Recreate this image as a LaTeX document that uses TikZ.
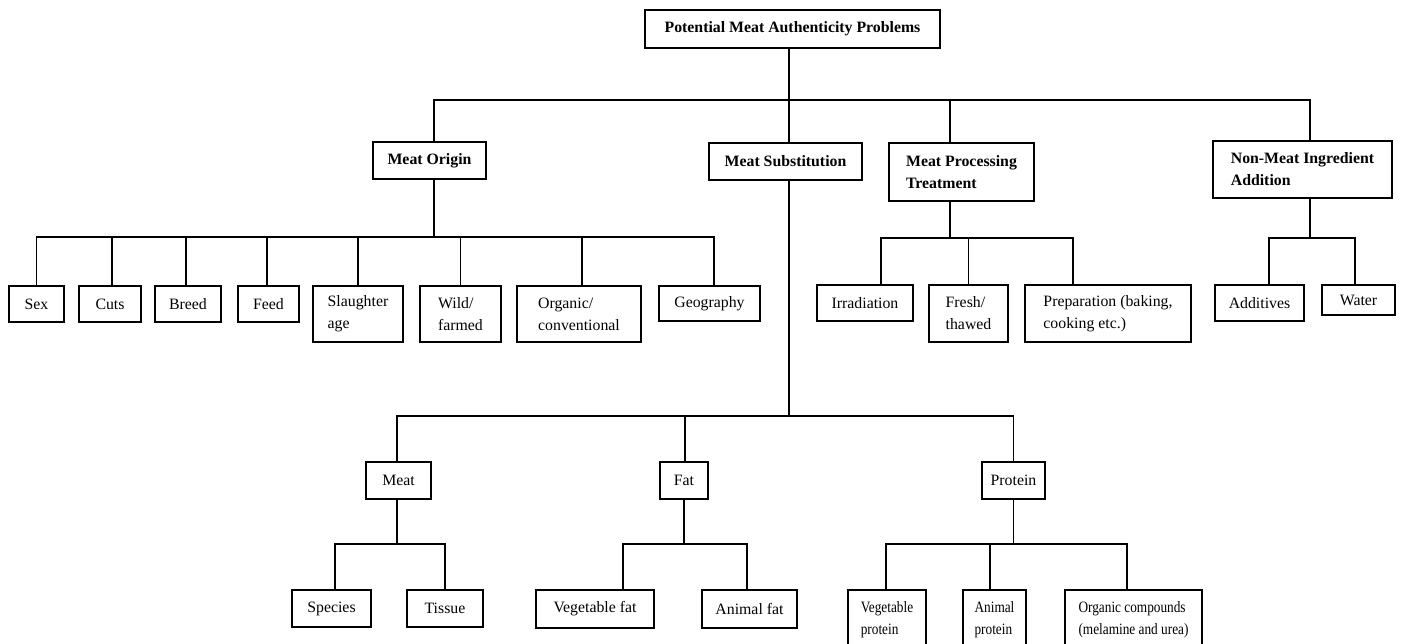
\documentclass[tikz,border=0pt]{standalone}
\usepackage{fontspec}
\setmainfont{Liberation Serif}
\newfontfamily\narrowfont[FakeStretch=0.84]{Liberation Serif}

\tikzset{
  box/.style={draw, line width=0.9pt, inner xsep=2pt, inner ysep=1pt, align=center, font=\fontsize{9}{12.5}\selectfont},
  head/.style={box, font=\fontsize{9}{12.5}\selectfont\bfseries},
  narrow/.style={font=\fontsize{9}{12.5}\selectfont\narrowfont},
  boxsize/.style 2 args={minimum width=#1*0.02cm, minimum height=#2*0.02cm},
  link/.style={line width=0.9pt},
}

\begin{document}
\begin{tikzpicture}[x=0.02cm, y=-0.02cm]
	\clip (0,0) rectangle (1403,643);
	
	\node [head, boxsize={295}{38}] (root) at (792.5,29) {Potential Meat Authenticity Problems};
	
	% main groups
	\node [head, boxsize={113}{37}] (origin) at (429.5,160.5) {Meat Origin};
	\node [head, boxsize={153}{37}] (subst) at (785.5,161.5) {Meat Substitution};
	\node [head, align=left, boxsize={145}{58}] (process) at (961.5,172) {Meat Processing\\Treatment};
	\node [head, align=left, boxsize={179}{57}] (nonmeat) at (1302.5,169.5) {Non-Meat Ingredient\\Addition};
	
	% origin
	\node [box, boxsize={55}{36}] (sex) at (36.5,304) {Sex};
	\node [box, boxsize={62}{36}] (cuts) at (110,304) {Cuts};
	\node [box, boxsize={66}{36}] (breed) at (188,304) {Breed};
	\node [box, boxsize={61}{36}] (feed) at (268.5,304) {Feed};
	\node [box, align=left, boxsize={90}{56}] (slaughter) at (358,314) {Slaughter\\age};
	\node [box, align=left, boxsize={81}{56}] (wild) at (460.5,314) {Wild/\\farmed};
	\node [box, align=left, boxsize={124}{56}] (organic) at (579,314) {Organic/\\conventional};
	\node [box, boxsize={101}{35}] (geo) at (709.5,303.5) {Geography};
	
	% processing and non-meat
	\node [box, boxsize={96}{36}] (irrad) at (865,303) {Irradiation};
	\node [box, align=left, boxsize={79}{57}] (fresh) at (968.5,313.5) {Fresh/\\thawed};
	\node [box, align=left, boxsize={166}{57}] (prep) at (1108,313.5) {Preparation (baking,\\cooking etc.)};
	\node [box, boxsize={89}{36}] (additives) at (1259.5,303) {Additives};
	\node [box, boxsize={73}{30}] (water) at (1358.5,300) {Water};
	
	% substitution
	\node [box, boxsize={65}{37}] (meat) at (398.5,480.5) {Meat};
	\node [box, boxsize={48}{37}] (fat) at (684,480.5) {Fat};
	\node [box, boxsize={63}{37}] (protein) at (1013.5,480.5) {Protein};
	
	\node [box, boxsize={79}{37}] (species) at (331.5,608.5) {Species};
	\node [box, boxsize={76}{37}] (tissue) at (445,608.5) {Tissue};
	\node [box, boxsize={118}{38}] (vegfat) at (595,609) {Vegetable fat};
	\node [box, boxsize={95}{38}] (animfat) at (749.5,609) {Animal fat};
	\node [box, narrow, align=left, boxsize={78}{60}] (vegprot) at (887,620) {Vegetable\\protein};
	\node [box, narrow, align=left, boxsize={63}{60}] (animprot) at (994.5,620) {Animal\\protein};
	\node [box, narrow, align=left, boxsize={137}{60}] (orgcomp) at (1133.5,620) {Organic compounds\\(melamine and urea)};
	
	% links
	\foreach \c/\dx in {origin/2.5, subst/2, process/-6.5, nonmeat/4.3}
		\draw [link] ([xshift=-2pt]root.south) -- ++(0,51) -| ([xshift=\dx pt]\c.north);
	\foreach \c/\dx in {sex/0, cuts/1.1, breed/-1.1, feed/-0.9, slaughter/0, wild/0, organic/1.7, geo/2.6}
		\draw [link] ([xshift=2.5pt]origin.south) -- ++(0,57) -| ([xshift=\dx pt]\c.north);
	\foreach \c/\dx in {meat/-0.9, fat/0.6, protein/0}
		\draw [link] ([xshift=2pt]subst.south) -- ++(0,235) -| ([xshift=\dx pt]\c.north);
	\foreach \c/\dx in {irrad/9.1, fresh/0, prep/-20}
		\draw [link] ([xshift=-6.5pt]process.south) -- ++(0,36) -| ([xshift=\dx pt]\c.north);
	\foreach \c/\dx in {additives/5.4, water/-2}
		\draw [link] ([xshift=4.3pt]nonmeat.south) -- ++(0,39) -| ([xshift=\dx pt]\c.north);
	\foreach \c/\dx in {species/2, tissue/0}
		\draw [link] ([xshift=-0.9pt]meat.south) -- ++(0,44) -| ([xshift=\dx pt]\c.north);
	\foreach \c/\dx in {vegfat/16, animfat/-1.4}
		\draw [link] (fat.south) -- ++(0,44) -| ([xshift=\dx pt]\c.north);
	\foreach \c/\dx in {vegprot/-0.6, animprot/-2.6, orgcomp/-3.7}
		\draw [link] (protein.south) -- ++(0,44) -| ([xshift=\dx pt]\c.north);
\end{tikzpicture}
\end{document}
